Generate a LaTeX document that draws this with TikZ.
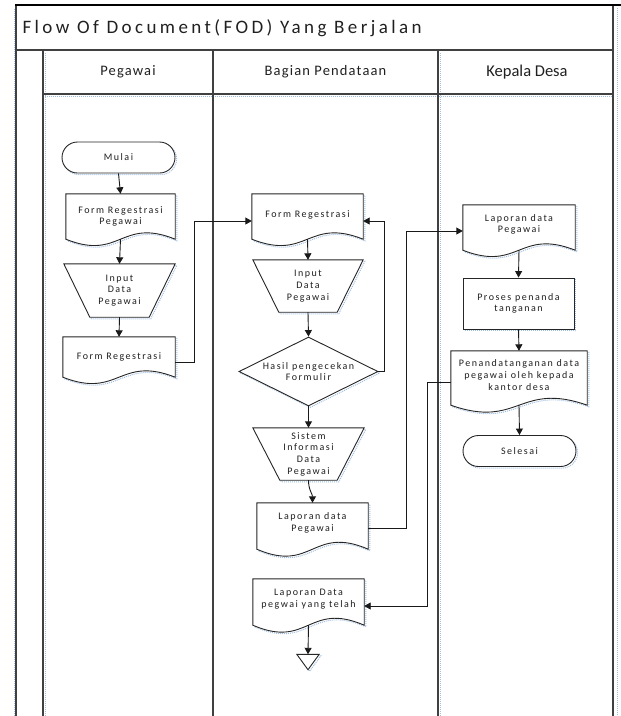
\documentclass[tikz,border=0pt]{standalone}
\usepackage{fontspec}
\setmainfont{Carlito}
\newfontfamily\boxfont[LetterSpace=15]{Carlito}
\newfontfamily\hdrfont[LetterSpace=8]{Carlito}
\newfontfamily\ttlfont[LetterSpace=18]{Carlito}
\usetikzlibrary{shapes.geometric,shapes.misc,calc,arrows.meta}
\definecolor{framec}{HTML}{404040}
\definecolor{shadowc}{RGB}{160,190,225}
\definecolor{textc}{HTML}{202020}
\newcommand\docoutline[2]{%
  \draw[shp] (#1.north west) -- (#1.north east) -- (#1.south east)
    .. controls ($(#1.south)+(0,-#2)$) and ($(#1.south)+(0,#2)$) .. (#1.south west) -- cycle;}
\newcommand\trapoutline[2]{%
  \draw[shp] (#1.north west) -- (#1.north east) -- ($(#1.south east)+(-#2,0)$) -- ($(#1.south west)+(#2,0)$) -- cycle;}
\begin{document}
\begin{tikzpicture}[x=1pt,y=-1pt,
  frame/.style={draw=framec,line width=1.2pt},
  shline/.style={draw=shadowc,densely dotted,line width=1pt},
  shp/.style={draw=black!85,line width=0.9pt,fill=white,
    preaction={draw=shadowc,densely dotted,line width=1pt,transform canvas={shift={(1.6pt,-1.6pt)}}}},
  txt/.style={font=\boxfont\fontsize{10}{11.7}\selectfont,text=textc,align=center,inner sep=0pt},
  docbox/.style={txt,draw=none,minimum width=#1},
  term/.style={txt,shp,rounded rectangle,minimum width=113,minimum height=31},
  procbox/.style={txt,shp,rectangle,minimum width=111,minimum height=51},
  decision/.style={txt,shp,diamond,aspect=2,minimum width=139,minimum height=69},
  hdr/.style={font=\hdrfont\fontsize{14.5}{17}\selectfont,text=textc},
  arr/.style={draw=black!90,line width=0.9pt,-{Triangle[width=7pt,length=6.5pt]}},
  ln/.style={draw=black!90,line width=0.9pt}
]
\useasboundingbox (0,0) rectangle (621,716);
% shadow lines
\draw[shline] (14,9) -- (14,716);
\draw[shline] (45,53) -- (45,716);
\draw[shline] (45,96) -- (613,96);
\draw[shline] (440,53) -- (440,716);
\draw[shline] (617,8) -- (617,716);
% frame
\draw[frame] (16,5) -- (16,716);
\draw[frame] (613,5) -- (613,716);
\draw[frame] (16,50) -- (613,50);
\draw[frame] (43,94) -- (613,94);
\draw[frame] (43,50) -- (43,716);
\draw[frame] (213,50) -- (213,716);
\draw[frame] (438,50) -- (438,716);
\draw[draw=black,line width=2.2pt] (15,5) -- (621,5);
% titles
\node[anchor=west,font=\ttlfont\fontsize{19}{21}\selectfont,text=textc] (title) at (19,28) {Flow Of Document(FOD) Yang Berjalan};
\node[hdr] (h1) at (128,72) {Pegawai};
\node[hdr] (h2) at (325.5,72) {Bagian Pendataan};
\node[font=\fontsize{16.5}{18}\selectfont,text=textc] (h3) at (527,72) {Kepala Desa};
% lane 1
\node[term] (mulai) at (118.5,157.5) {Mulai};
\node[docbox=109,minimum height=45] (doc1) at (120.5,216.5) {};
\docoutline{doc1}{22}
\node[txt] at (doc1) {Form Regestrasi\\Pegawai};
\node[docbox=111,minimum height=53] (t1) at (119.5,290.5) {};
\trapoutline{t1}{26}
\node[txt] at (t1) {Input\\Data\\Pegawai};
\node[docbox=112,minimum height=40] (doc2) at (119,357) {};
\docoutline{doc2}{22}
\node[txt] at (doc2) {Form Regestrasi};
% lane 2
\node[docbox=111,minimum height=45] (doc3) at (307.5,216.5) {};
\docoutline{doc3}{22}
\node[txt] at ([yshift=2pt]doc3) {Form Regestrasi};
\node[docbox=110,minimum height=52] (t2) at (308,286) {};
\trapoutline{t2}{26}
\node[txt] at (t2) {Input\\Data\\Pegawai};
\node[decision] (dia) at (308.5,371.5) {Hasil pengecekan\\Formulir};
\node[docbox=111,minimum height=52] (t3) at (308.5,454) {};
\trapoutline{t3}{27}
\node[txt] at (t3) {Sistem\\Informasi\\Data\\Pegawai};
\node[docbox=111,minimum height=46] (doc4) at (312.5,526) {};
\docoutline{doc4}{24}
\node[txt] at ([yshift=3pt]doc4) {Laporan data\\Pegawai};
\node[docbox=111,minimum height=46] (doc5) at (308.5,602) {};
\docoutline{doc5}{24}
\node[txt] at ([yshift=3pt]doc5) {Laporan Data\\pegwai yang telah};
\node[docbox=22,minimum height=15] (off) at (308,662) {};
\draw[shp] (off.north west) -- (off.north east) -- (off.south) -- cycle;
% lane 3
\node[docbox=112,minimum height=45] (doc6) at (519,227.5) {};
\docoutline{doc6}{22}
\node[txt] at ([yshift=3pt]doc6) {Laporan data\\Pegawai};
\node[procbox] (proc) at (518.5,303.5) {Proses penanda\\tanganan};
\node[docbox=136,minimum height=54] (doc7) at (519,378) {};
\docoutline{doc7}{24}
\node[txt] at ([yshift=3pt]doc7) {Penandatanganan data\\pegawai oleh kepada\\kantor desa};
\node[term] (selesai) at (519.5,451) {Selesai};
% connectors
\draw[arr] (mulai.south) -- (doc1.north);
\draw[arr] (doc1.south) -- (t1.north);
\draw[arr] (t1.south) -- (doc2.north);
\draw[arr] ([yshift=-5pt]doc2.east) -| (194,221) -- ([yshift=-4.5pt]doc3.west);
\draw[arr] (doc3.south) -- (t2.north);
\draw[arr] (t2.south) -- (dia.north);
\draw[arr] (dia.east) -- ++(6,0) |- ([yshift=-4.5pt]doc3.east);
\draw[arr] (dia.south) -- (t3.north);
\draw[arr] (t3.south) .. controls +(0,10) and +(0,-9) .. (doc4.north);
\draw[arr] ([yshift=-2pt]doc4.east) -- ++(38,0) |- ([yshift=-3.5pt]doc6.west);
\draw[arr] (doc6.south) -- (proc.north);
\draw[arr] (proc.south) -- (doc7.north);
\draw[arr] (doc7.south) -- (selesai.north);
\draw[arr] ([yshift=-4pt]doc7.west) -- ++(-23,0) |- ([yshift=-4pt]doc5.east);
\draw[arr] (doc5.south) -- (off.north);
\end{tikzpicture}
\end{document}
